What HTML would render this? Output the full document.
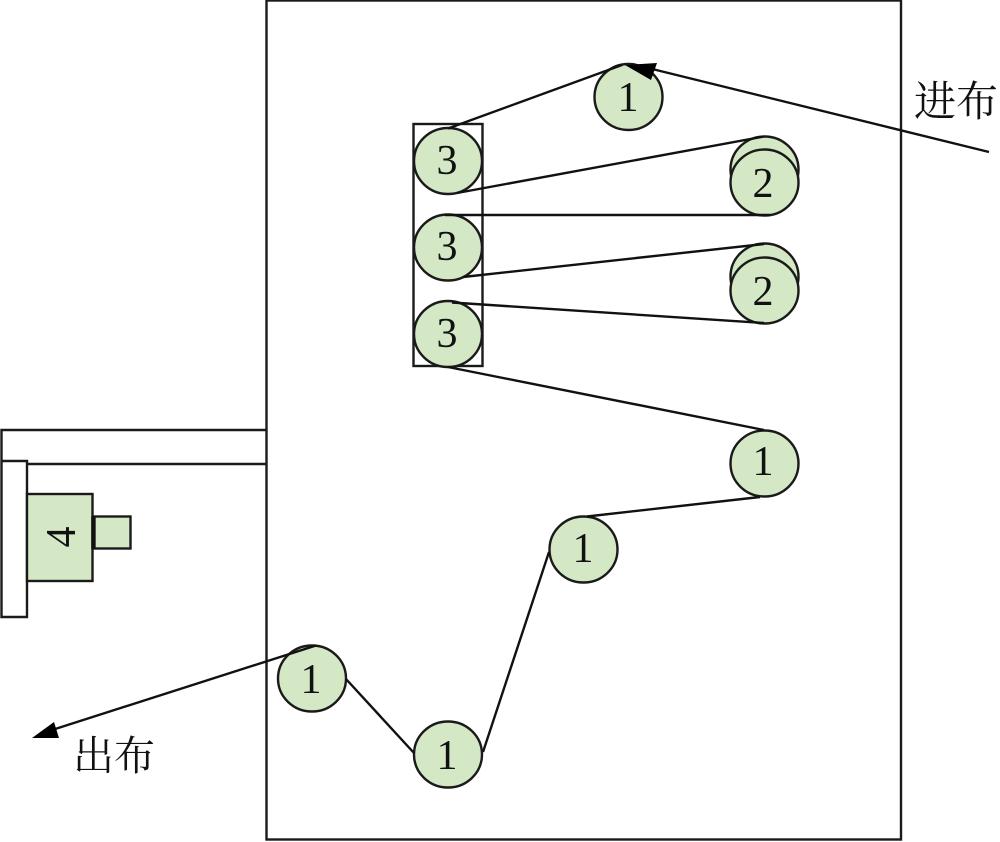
<!DOCTYPE html>
<html>
<head>
<meta charset="utf-8">
<style>
html,body{margin:0;padding:0;background:#fff}
svg{display:block}
.n{font-family:"Liberation Serif",serif;font-size:42px;fill:#111;text-anchor:middle}
.c{font-family:"Liberation Serif","Noto Serif CJK SC",serif;fill:#111}
</style>
</head>
<body>
<svg width="1000" height="842" viewBox="0 0 1000 842" xmlns="http://www.w3.org/2000/svg">
<g fill="none" stroke="#1a1a1a" stroke-width="2.4">
<rect x="266.5" y="0.5" width="634.5" height="839"/>
<path d="M266 430H1.5V617H27V461H1.5M27 464H266"/>
<rect x="413.5" y="124" width="69" height="242"/>
</g>
<g fill="#d4e8c5" stroke="#1a1a1a" stroke-width="2.4">
<rect x="27" y="494" width="65.5" height="87"/>
<rect x="94.5" y="516.5" width="36" height="32"/>
<ellipse cx="628.5" cy="97" rx="34" ry="33"/>
<ellipse cx="448" cy="161" rx="34" ry="33"/>
<ellipse cx="448" cy="247.5" rx="34" ry="33"/>
<ellipse cx="448" cy="334" rx="34" ry="33"/>
<ellipse cx="764.5" cy="169.5" rx="34" ry="33"/>
<ellipse cx="764.5" cy="182.5" rx="34" ry="33"/>
<ellipse cx="764.5" cy="276.5" rx="34" ry="33"/>
<ellipse cx="764.5" cy="290.5" rx="34" ry="33"/>
<ellipse cx="764.5" cy="463.5" rx="34" ry="33"/>
<ellipse cx="583.5" cy="549.5" rx="34" ry="33"/>
<ellipse cx="312" cy="678.5" rx="34" ry="33"/>
<ellipse cx="448" cy="754.5" rx="34" ry="33"/>
</g>
<path d="M93 516V549" stroke="#111" stroke-width="3.5" fill="none"/>
<g fill="none" stroke="#111" stroke-width="2.4">
<path d="M448 128.5L622 65"/>
<path d="M640 66L989 152"/>
<path d="M457 193L764 136.5"/>
<path d="M445 215H770"/>
<path d="M463 277L764 244"/>
<path d="M452 302.5L764 323"/>
<path d="M448 367L764 430"/>
<path d="M760 497L587 516.5"/>
<path d="M549 552L483 752"/>
<path d="M346 679L414 753"/>
<path d="M316 645.500L52 730"/>
</g>
<path d="M657 63L625 65L651 80Z" fill="#000"/>
<path d="M32 738L54 722L59 738Z" fill="#000"/>
<g>
<text class="n" x="628" y="111">1</text>
<text class="n" x="447" y="174">3</text>
<text class="n" x="447" y="260">3</text>
<text class="n" x="447" y="347">3</text>
<text class="n" x="763" y="197">2</text>
<text class="n" x="763" y="305">2</text>
<text class="n" x="763" y="475">1</text>
<text class="n" x="583" y="562">1</text>
<text class="n" x="311" y="693">1</text>
<text class="n" x="447" y="769">1</text>
<text class="n" transform="translate(75 537) rotate(-90)" x="0" y="0">4</text>
</g>
<text class="c" x="914" y="116" font-size="42">进布</text>
<text class="c" x="73" y="770" font-size="41">出布</text>
</svg>
</body>
</html>
